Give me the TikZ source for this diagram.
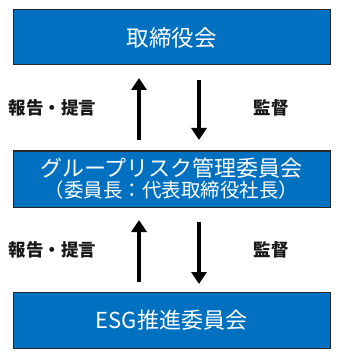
\documentclass[tikz,border=0pt]{standalone}
\usepackage{fontspec}
\setmainfont{Noto Sans CJK JP}
\usetikzlibrary{arrows.meta}
\definecolor{boxblue}{HTML}{0070C0}
\tikzset{
  orgbox/.style={draw=black!85, line width=1pt, fill=boxblue, text=white, minimum width=317pt, align=center, inner sep=0pt},
  flow/.style={line width=3.5pt, -{Triangle[length=12pt,width=15pt]}},
  side/.style={font=\fontsize{17.5}{20}\selectfont\bfseries, text=black!90}
}
\begin{document}
\begin{tikzpicture}[x=1pt,y=-1pt]
\useasboundingbox (0,0) rectangle (338,358);
\node[orgbox, minimum height=55pt, font=\fontsize{22.5}{24}\selectfont] (board) at (171.5,37.5) {取締役会};
\node[orgbox, minimum height=56pt] (risk) at (171.5,179) {{\fontsize{22}{24}\selectfont グループリスク管理委員会}\\[1.5pt]{\fontsize{19.5}{22}\selectfont （委員長：代表取締役社長）}};
\node[orgbox, minimum height=56pt, font=\fontsize{22}{24}\selectfont] (esg) at (171.5,320) {ESG推進委員会};
\coordinate (u1s) at (139,140); \coordinate (u1e) at (139,78);
\coordinate (d1s) at (199,80); \coordinate (d1e) at (199,140);
\coordinate (u2s) at (139,282); \coordinate (u2e) at (139,220);
\coordinate (d2s) at (199,222); \coordinate (d2e) at (199,284);
\draw[flow] (u1s) -- (u1e);
\draw[flow] (d1s) -- (d1e);
\draw[flow] (u2s) -- (u2e);
\draw[flow] (d2s) -- (d2e);
\node[side] (rep1) at (52.5,108) {報告・提言};
\node[side] (sup1) at (271,108) {監督};
\node[side] (rep2) at (52.5,250) {報告・提言};
\node[side] (sup2) at (271,250) {監督};
\end{tikzpicture}
\end{document}
